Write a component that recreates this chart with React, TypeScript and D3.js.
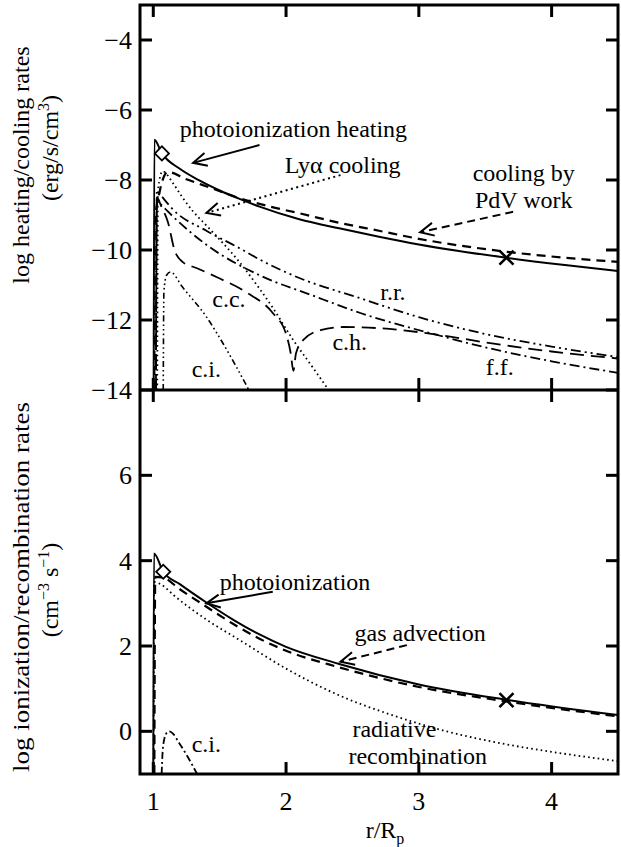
import { useEffect, useRef } from "react";
import * as d3 from "d3";

type Pt = [number, number];

// ---- top panel: log heating / cooling rates (erg/s/cm^3) vs r/Rp ----
const photoHeating: Pt[] = [
  [1.003, -14], [1.008, -6.85], [1.065, -7.24], [1.2, -7.68], [1.35, -8.02],
  [1.5, -8.3], [1.65, -8.54], [1.8, -8.76], [2.1, -9.12], [2.4, -9.38],
  [2.7, -9.62], [3.0, -9.84], [3.66, -10.22], [4.1, -10.43], [4.5, -10.6],
];
const pdvCooling: Pt[] = [
  [1.008, -14], [1.012, -9.2], [1.05, -8.3], [1.11, -7.77], [1.25, -7.98],
  [1.43, -8.22], [1.65, -8.52], [1.88, -8.76], [2.1, -8.95], [2.41, -9.23],
  [2.7, -9.45], [3.0, -9.68], [3.66, -10.05], [4.1, -10.22], [4.5, -10.34],
];
const lyaCooling: Pt[] = [
  [1.03, -14], [1.035, -8.3], [1.07, -7.75], [1.15, -8.1], [1.22, -8.5],
  [1.3, -8.9], [1.4, -9.3], [1.5, -9.7], [1.65, -10.35], [1.78, -11.0],
  [1.9, -11.65], [2.05, -12.55], [2.2, -13.35], [2.33, -14.05],
];
const rrCooling: Pt[] = [
  [1.02, -14], [1.027, -8.3], [1.06, -8.45], [1.15, -8.85], [1.4, -9.45],
  [1.65, -9.95], [1.8, -10.27], [2.1, -10.8], [2.56, -11.38], [3.0, -11.92],
  [3.5, -12.4], [4.0, -12.76], [4.5, -13.06],
];
const ffCooling: Pt[] = [
  [1.02, -14], [1.027, -8.6], [1.07, -8.75], [1.15, -9.05], [1.4, -9.85],
  [1.8, -10.72], [2.2, -11.3], [2.56, -11.8], [3.16, -12.45], [3.5, -12.78],
  [4.0, -13.18], [4.5, -13.51],
];
// conduction: c.c. (cooling) then c.h. (heating) after the sign change
const conduction: Pt[] = [
  [1.02, -14], [1.027, -8.5], [1.06, -8.75], [1.11, -9.2], [1.16, -10.0],
  [1.22, -10.34], [1.33, -10.52], [1.48, -10.78], [1.71, -11.23], [1.9, -11.8],
  [2.0, -12.4], [2.035, -12.95], [2.055, -13.45], [2.075, -12.95], [2.13, -12.57],
  [2.26, -12.29], [2.43, -12.2], [2.68, -12.23], [3.16, -12.43], [3.5, -12.64],
  [4.0, -12.9], [4.5, -13.1],
];
const ciCooling: Pt[] = [
  [1.075, -14], [1.08, -11.2], [1.1, -10.72], [1.13, -10.63], [1.22, -11.06],
  [1.4, -11.91], [1.53, -12.7], [1.62, -13.3], [1.72, -14.0],
];
const topDiamond: Pt = [1.065, -7.24];
const topCross: Pt = [3.66, -10.22];

// ---- bottom panel: log ionization / recombination rates (cm^-3 s^-1) ----
const photoIonization: Pt[] = [
  [1.0, -1], [1.005, 4.17], [1.075, 3.74], [1.2, 3.45], [1.4, 3.02],
  [1.6, 2.62], [1.8, 2.27], [2.0, 1.98], [2.4, 1.58], [3.0, 1.1],
  [3.66, 0.74], [4.5, 0.38],
];
const gasAdvection: Pt[] = [
  [1.008, -1], [1.015, 3.62], [1.075, 3.6], [1.2, 3.33], [1.4, 2.92],
  [1.6, 2.52], [1.8, 2.17], [2.0, 1.89], [2.4, 1.5], [3.0, 1.04],
  [3.66, 0.7], [4.5, 0.35],
];
const radRecombination: Pt[] = [
  [1.003, -1], [1.006, 3.5], [1.07, 3.42], [1.15, 3.2], [1.4, 2.62],
  [1.65, 2.14], [2.0, 1.47], [2.41, 0.83], [2.8, 0.38], [3.16, 0.04],
  [3.6, -0.27], [4.0, -0.48], [4.5, -0.7],
];
const ciIonization: Pt[] = [
  [1.063, -1], [1.07, -0.5], [1.085, -0.15], [1.1, -0.04], [1.12, 0.0],
  [1.15, -0.06], [1.19, -0.25], [1.26, -0.6], [1.33, -1.0],
];
const botDiamond: Pt = [1.075, 3.74];
const botCross: Pt = [3.66, 0.73];

// ticks
const xTicks = [1, 2, 3, 4];
const topYTicks = [-14, -12, -10, -8, -6, -4];
const botYTicks = [0, 2, 4, 6];

export default function App() {
  const svgRef = useRef<SVGSVGElement>(null);

  useEffect(() => {
    if (!svgRef.current) return;
    document.body.style.margin = "0";

    const svg = d3.select(svgRef.current);
    svg.selectAll("*").remove();

    const left = 140;
    const right = 618;
    const top = 5;
    const mid = 390;
    const bottom = 774;
    const tickLen = 12;
    const font = "Liberation Serif, Times New Roman, DejaVu Serif, serif";

    svg.style("font-family", font);

    const x = d3.scaleLinear().domain([0.9, 4.5]).range([left, right]);
    const yTop = d3.scaleLinear().domain([-14, -3]).range([mid, top]);
    const yBot = d3.scaleLinear().domain([-1, 8]).range([bottom, mid]);

    const defs = svg.append("defs");
    defs
      .append("clipPath")
      .attr("id", "clip-top")
      .append("rect")
      .attr("x", left)
      .attr("y", top)
      .attr("width", right - left)
      .attr("height", mid - top);
    defs
      .append("clipPath")
      .attr("id", "clip-bot")
      .append("rect")
      .attr("x", left)
      .attr("y", mid)
      .attr("width", right - left)
      .attr("height", bottom - mid);

    const gTop = svg.append("g").attr("clip-path", "url(#clip-top)");
    const gBot = svg.append("g").attr("clip-path", "url(#clip-bot)");

    const curve = (
      g: d3.Selection<SVGGElement, unknown, null, undefined>,
      data: Pt[],
      y: d3.ScaleLinear<number, number>,
      dash: string | null,
      width: number
    ) => {
      const line = d3
        .line<Pt>()
        .x((d) => x(d[0]))
        .y((d) => y(d[1]))
        .curve(d3.curveMonotoneX);
      g.append("path")
        .datum(data)
        .attr("d", line)
        .attr("fill", "none")
        .attr("stroke", "#000")
        .attr("stroke-width", width)
        .attr("stroke-dasharray", dash);
    };

    const DASH = "9,6";
    const DOT = "1.6,3.2";
    const LONG = "14,7";
    const DASHDOT = "10,4,2,4";
    const DASH3DOT = "10,4,2,4,2,4";

    // top panel curves
    curve(gTop, photoHeating, yTop, null, 2);
    curve(gTop, pdvCooling, yTop, DASH, 2.2);
    curve(gTop, lyaCooling, yTop, DOT, 1.8);
    curve(gTop, rrCooling, yTop, DASH3DOT, 1.8);
    curve(gTop, ffCooling, yTop, DASHDOT, 1.8);
    curve(gTop, conduction, yTop, LONG, 1.8);
    curve(gTop, ciCooling, yTop, "6,3,1.6,3,1.6,3,1.6,3", 1.6);

    // bottom panel curves
    curve(gBot, photoIonization, yBot, null, 2);
    curve(gBot, gasAdvection, yBot, DASH, 2.2);
    curve(gBot, radRecombination, yBot, DOT, 1.8);
    curve(gBot, ciIonization, yBot, "7,3,2,3", 1.8);

    // markers
    const diamond = (p: Pt, y: d3.ScaleLinear<number, number>) => {
      svg
        .append("path")
        .attr("d", d3.symbol().type(d3.symbolSquare).size(100)())
        .attr("transform", `translate(${x(p[0])},${y(p[1])}) rotate(45)`)
        .attr("fill", "#fff")
        .attr("stroke", "#000")
        .attr("stroke-width", 1.8);
    };
    const cross = (p: Pt, y: d3.ScaleLinear<number, number>) => {
      const cx = x(p[0]);
      const cy = y(p[1]);
      const s = 7;
      svg
        .append("path")
        .attr("d", `M${cx - s},${cy - s}L${cx + s},${cy + s}M${cx - s},${cy + s}L${cx + s},${cy - s}`)
        .attr("stroke", "#000")
        .attr("stroke-width", 2.6);
    };
    diamond(topDiamond, yTop);
    cross(topCross, yTop);
    diamond(botDiamond, yBot);
    cross(botCross, yBot);

    // arrows
    const arrow = (
      from: Pt,
      to: Pt,
      y: d3.ScaleLinear<number, number>,
      dash: string | null
    ) => {
      const x1 = x(from[0]);
      const y1 = y(from[1]);
      const x2 = x(to[0]);
      const y2 = y(to[1]);
      svg
        .append("line")
        .attr("x1", x1)
        .attr("y1", y1)
        .attr("x2", x2)
        .attr("y2", y2)
        .attr("stroke", "#000")
        .attr("stroke-width", 2)
        .attr("stroke-dasharray", dash);
      const a = Math.atan2(y1 - y2, x1 - x2);
      const len = 15;
      const spread = 0.45;
      svg
        .append("path")
        .attr(
          "d",
          `M${x2 + len * Math.cos(a + spread)},${y2 + len * Math.sin(a + spread)}L${x2},${y2}L${x2 + len * Math.cos(a - spread)},${y2 + len * Math.sin(a - spread)}`
        )
        .attr("fill", "none")
        .attr("stroke", "#000")
        .attr("stroke-width", 2);
    };
    arrow([1.8, -7.0], [1.3, -7.51], yTop, null);
    arrow([2.41, -7.86], [1.4, -8.94], yTop, "2,3.5");
    arrow([3.71, -8.91], [3.01, -9.49], yTop, "8,5");
    arrow([1.9, 3.27], [1.4, 3.0], yBot, null);
    arrow([2.91, 2.02], [2.41, 1.63], yBot, "8,5");

    // labels
    const label = (
      txt: string,
      px: number,
      py: number,
      y: d3.ScaleLinear<number, number>,
      anchor = "start"
    ) =>
      svg
        .append("text")
        .attr("x", x(px))
        .attr("y", y(py))
        .attr("text-anchor", anchor)
        .style("font-family", font)
        .attr("font-size", 24)
        .attr("fill", "#000")
        .text(txt);

    label("photoionization heating", 1.2, -6.77, yTop);
    label("Ly\u03b1 cooling", 1.99, -7.8, yTop);
    label("cooling by", 3.79, -8.03, yTop, "middle");
    label("PdV work", 3.79, -8.8, yTop, "middle");
    label("r.r.", 2.805, -11.43, yTop, "middle");
    label("c.c.", 1.57, -11.63, yTop, "middle");
    label("c.h.", 2.48, -12.86, yTop, "middle");
    label("c.i.", 1.4, -13.63, yTop, "middle");
    label("f.f.", 3.61, -13.57, yTop, "middle");

    label("photoionization", 1.5, 3.31, yBot);
    label("gas advection", 3.01, 2.12, yBot, "middle");
    label("radiative", 2.5, -0.13, yBot);
    label("recombination", 2.47, -0.765, yBot);
    label("c.i.", 1.4, -0.48, yBot, "middle");

    // frame
    svg
      .append("rect")
      .attr("x", left)
      .attr("y", top)
      .attr("width", right - left)
      .attr("height", bottom - top)
      .attr("fill", "none")
      .attr("stroke", "#000")
      .attr("stroke-width", 3);
    svg
      .append("line")
      .attr("x1", left)
      .attr("x2", right)
      .attr("y1", mid)
      .attr("y2", mid)
      .attr("stroke", "#000")
      .attr("stroke-width", 3);

    const tick = (x1: number, y1: number, x2: number, y2: number) =>
      svg
        .append("line")
        .attr("x1", x1)
        .attr("y1", y1)
        .attr("x2", x2)
        .attr("y2", y2)
        .attr("stroke", "#000")
        .attr("stroke-width", 3);

    xTicks.forEach((t) => {
      const px = x(t);
      tick(px, top, px, top + tickLen);
      tick(px, mid - tickLen, px, mid + tickLen);
      tick(px, bottom - tickLen, px, bottom);
      svg
        .append("text")
        .attr("x", px)
        .attr("y", 810)
        .attr("text-anchor", "middle")
        .style("font-family", font)
        .attr("font-size", 26)
        .text(t);
    });

    const yTickLabels = (ticks: number[], y: d3.ScaleLinear<number, number>) => {
      ticks.forEach((t) => {
        const py = y(t);
        tick(left, py, left + tickLen, py);
        tick(right - tickLen, py, right, py);
        svg
          .append("text")
          .attr("x", 132)
          .attr("y", py)
          .attr("dy", "0.35em")
          .attr("text-anchor", "end")
          .style("font-family", font)
          .attr("font-size", 26)
          .text(t < 0 ? "\u2212" + Math.abs(t) : String(t));
      });
    };
    yTickLabels(topYTicks, yTop);
    yTickLabels(botYTicks, yBot);

    // axis titles
    const vtitle = (cx: number, cy: number) =>
      svg
        .append("text")
        .attr("transform", `translate(${cx},${cy}) rotate(-90)`)
        .attr("text-anchor", "middle")
        .style("font-family", font)
        .attr("font-size", 24);

    vtitle(29, 165).text("log heating/cooling rates");
    const t2 = vtitle(58, 148);
    t2.append("tspan").text("(erg/s/cm");
    t2.append("tspan").attr("dy", -9).attr("font-size", 16).text("3");
    t2.append("tspan").attr("dy", 9).text(")");

    vtitle(29, 587)
      .attr("textLength", 370)
      .attr("lengthAdjust", "spacingAndGlyphs")
      .text("log ionization/recombination rates");
    const t4 = vtitle(58, 590);
    t4.append("tspan").text("(cm");
    t4.append("tspan").attr("dy", -9).attr("font-size", 16).text("\u22123");
    t4.append("tspan").attr("dy", 9).text(" s");
    t4.append("tspan").attr("dy", -9).attr("font-size", 16).text("\u22121");
    t4.append("tspan").attr("dy", 9).text(")");

    const xt = svg
      .append("text")
      .attr("x", 385)
      .attr("y", 838)
      .attr("text-anchor", "middle")
      .style("font-family", font)
      .attr("font-size", 24);
    xt.append("tspan").text("r/R");
    xt.append("tspan").attr("dy", 6).attr("font-size", 16).text("p");
  }, []);

  return <svg ref={svgRef} width={621} height={847} style={{ display: "block" }}></svg>;
}
